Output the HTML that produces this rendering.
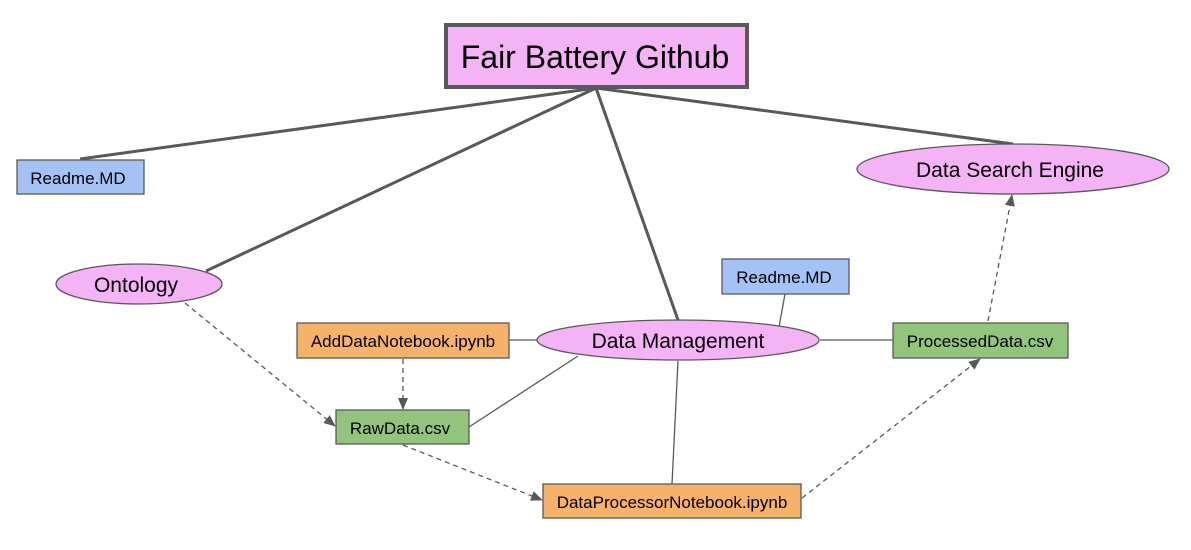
<!DOCTYPE html>
<html><head><meta charset="utf-8"><style>
html,body{margin:0;padding:0;background:#fff;}
svg{display:block;}
text{font-family:"Liberation Sans",Arial,sans-serif;fill:#000;}
</style></head><body>
<svg width="1191" height="550" viewBox="0 0 1191 550" xmlns="http://www.w3.org/2000/svg">
<defs>
<marker id="a" markerWidth="12" markerHeight="10" refX="11" refY="5" orient="auto" markerUnits="userSpaceOnUse">
<path d="M0,0 L12,5 L0,10 z" fill="#595959"/>
</marker>
</defs>
<g stroke="#595959" stroke-width="3" fill="none">
<line x1="596" y1="88" x2="80" y2="159"/>
<line x1="596" y1="88" x2="206" y2="271"/>
<line x1="596" y1="88" x2="678" y2="320"/>
<line x1="596" y1="88" x2="1013" y2="144"/>
</g>
<g stroke="#595959" stroke-width="1.3" fill="none">
<line x1="509" y1="340" x2="537" y2="340"/>
<line x1="785" y1="294" x2="779" y2="327"/>
<line x1="820" y1="340" x2="893" y2="340"/>
<line x1="469" y1="427" x2="578" y2="356"/>
<line x1="678" y1="361" x2="672" y2="484"/>
</g>
<g stroke="#595959" stroke-width="1.3" fill="none" stroke-dasharray="5,4" marker-end="url(#a)">
<line x1="185" y1="303" x2="335" y2="426"/>
<line x1="403" y1="359" x2="403" y2="409"/>
<line x1="403" y1="445" x2="542" y2="500"/>
<line x1="802" y1="498" x2="980" y2="359"/>
<line x1="988" y1="321" x2="1012" y2="195"/>
</g>
<rect x="446" y="25" width="301" height="62" fill="#f4b3f4" stroke="#595959" stroke-width="4"/>
<text x="595" y="68" font-size="32" text-anchor="middle">Fair Battery Github</text>
<rect x="17" y="160" width="127" height="34" fill="#a4c2f4" stroke="#595959" stroke-width="1.3"/>
<text x="78" y="184" font-size="17" text-anchor="middle">Readme.MD</text>
<ellipse cx="1013" cy="169" rx="156" ry="25" fill="#f4b3f4" stroke="#595959" stroke-width="1.3"/>
<text x="1010" y="177" font-size="21" text-anchor="middle">Data Search Engine</text>
<ellipse cx="139" cy="284" rx="83" ry="20" fill="#f4b3f4" stroke="#595959" stroke-width="1.3"/>
<text x="136" y="292" font-size="21" text-anchor="middle">Ontology</text>
<rect x="722" y="259" width="127" height="35" fill="#a4c2f4" stroke="#595959" stroke-width="1.3"/>
<text x="784" y="283" font-size="17" text-anchor="middle">Readme.MD</text>
<rect x="297" y="323" width="212" height="35" fill="#f6b26b" stroke="#595959" stroke-width="1.3"/>
<text x="403" y="347" font-size="17" text-anchor="middle">AddDataNotebook.ipynb</text>
<ellipse cx="678" cy="340" rx="141" ry="20" fill="#f4b3f4" stroke="#595959" stroke-width="1.3"/>
<text x="678" y="348" font-size="21" text-anchor="middle">Data Management</text>
<rect x="893" y="323" width="175" height="35" fill="#93c47d" stroke="#595959" stroke-width="1.3"/>
<text x="980" y="347" font-size="17" text-anchor="middle">ProcessedData.csv</text>
<rect x="336" y="410" width="133" height="34" fill="#93c47d" stroke="#595959" stroke-width="1.3"/>
<text x="400" y="434" font-size="17" text-anchor="middle">RawData.csv</text>
<rect x="543" y="484" width="258" height="34" fill="#f6b26b" stroke="#595959" stroke-width="1.3"/>
<text x="672" y="508" font-size="17" text-anchor="middle">DataProcessorNotebook.ipynb</text>
</svg>
</body></html>
